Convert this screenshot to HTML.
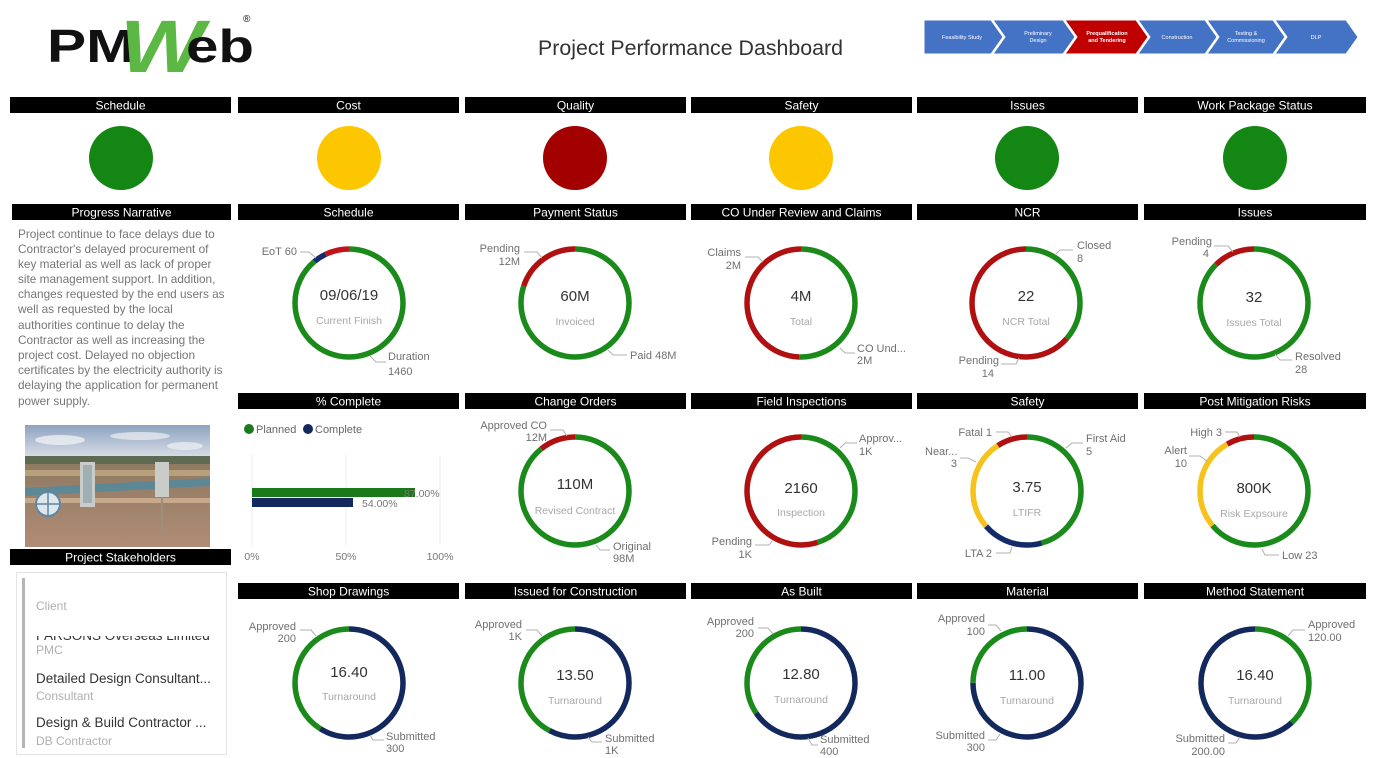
<!DOCTYPE html>
<html>
<head>
<meta charset="utf-8">
<style>
  html,body{margin:0;padding:0;background:#fff;}
  svg{display:block;font-family:"Liberation Sans",sans-serif;}
  .hb{fill:#000;}
  .ht{fill:#fff;font-size:12px;text-anchor:middle;}
  .lbl{fill:#707070;font-size:11px;}
  .ld{fill:none;stroke:#b0b0b0;stroke-width:1;}
  .val{fill:#333;font-size:15px;text-anchor:middle;}
  .sub{fill:#a8a8a8;font-size:10.5px;text-anchor:middle;}
  .nar{fill:#767676;font-size:11.8px;}
  .chv{fill:#fff;font-size:5.5px;text-anchor:middle;}
</style>
</head>
<body>
<svg width="1374" height="758" viewBox="0 0 1374 758" xmlns="http://www.w3.org/2000/svg">
  <rect width="1374" height="758" fill="#fff"/>

  <!-- Logo -->
  <text x="47" y="62" font-size="46" font-weight="bold" fill="#111" textLength="88" lengthAdjust="spacingAndGlyphs">PM</text>
  <text x="120" y="72" font-size="74" font-weight="bold" font-style="italic" fill="#5bb844" textLength="84" lengthAdjust="spacingAndGlyphs">W</text>
  <text x="186" y="62" font-size="46" font-weight="bold" fill="#111" textLength="68" lengthAdjust="spacingAndGlyphs">eb</text>
  <text x="243" y="22" font-size="10" fill="#111">®</text>

  <!-- Title -->
  <text x="538" y="55" font-size="21" fill="#333" textLength="305" lengthAdjust="spacingAndGlyphs">Project Performance Dashboard</text>

  <!-- Chevrons -->
  <g stroke="#fff" stroke-width="1">
    <polygon points="924,20 991,20 1003,37 991,54 924,54" fill="#4472c4"/>
    <polygon points="993,20 1063,20 1075,37 1063,54 993,54 1005,37" fill="#4472c4"/>
    <polygon points="1065,20 1136,20 1148,37 1136,54 1065,54 1077,37" fill="#c00000"/>
    <polygon points="1138,20 1205,20 1217,37 1205,54 1138,54 1150,37" fill="#4472c4"/>
    <polygon points="1207,20 1273,20 1285,37 1273,54 1207,54 1219,37" fill="#4472c4"/>
    <polygon points="1275,20 1346,20 1358,37 1346,54 1275,54 1287,37" fill="#4472c4"/>
  </g>
  <text class="chv" x="962" y="39">Feasibility Study</text>
  <text class="chv" x="1038" y="35">Preliminary</text>
  <text class="chv" x="1038" y="42">Design</text>
  <text class="chv" x="1107" y="35" font-weight="bold">Prequalification</text>
  <text class="chv" x="1107" y="42" font-weight="bold">and Tendering</text>
  <text class="chv" x="1177" y="39">Construction</text>
  <text class="chv" x="1246" y="35">Testing &amp;</text>
  <text class="chv" x="1246" y="42">Commissioning</text>
  <text class="chv" x="1316" y="39">DLP</text>

  <!-- Row 1 headers -->
  <rect class="hb" x="10" y="97" width="221" height="16"/><text class="ht" x="120.5" y="109.5">Schedule</text>
  <rect class="hb" x="238" y="97" width="221" height="16"/><text class="ht" x="348.5" y="109.5">Cost</text>
  <rect class="hb" x="465" y="97" width="221" height="16"/><text class="ht" x="575.5" y="109.5">Quality</text>
  <rect class="hb" x="691" y="97" width="221" height="16"/><text class="ht" x="801.5" y="109.5">Safety</text>
  <rect class="hb" x="917" y="97" width="221" height="16"/><text class="ht" x="1027.5" y="109.5">Issues</text>
  <rect class="hb" x="1144" y="97" width="222" height="16"/><text class="ht" x="1255" y="109.5">Work Package Status</text>

  <!-- Status circles -->
  <circle cx="121" cy="158" r="32" fill="#138613"/>
  <circle cx="349" cy="158" r="32" fill="#fdc700"/>
  <circle cx="575" cy="158" r="32" fill="#a30000"/>
  <circle cx="801" cy="158" r="32" fill="#fdc700"/>
  <circle cx="1027" cy="158" r="32" fill="#138613"/>
  <circle cx="1255" cy="158" r="32" fill="#138613"/>

  <!-- Row 2 headers -->
  <rect class="hb" x="12" y="204" width="219" height="16"/><text class="ht" x="121.5" y="216.5">Progress Narrative</text>
  <rect class="hb" x="238" y="204" width="221" height="16"/><text class="ht" x="348.5" y="216.5">Schedule</text>
  <rect class="hb" x="465" y="204" width="221" height="16"/><text class="ht" x="575.5" y="216.5">Payment Status</text>
  <rect class="hb" x="691" y="204" width="221" height="16"/><text class="ht" x="801.5" y="216.5">CO Under Review and Claims</text>
  <rect class="hb" x="917" y="204" width="221" height="16"/><text class="ht" x="1027.5" y="216.5">NCR</text>
  <rect class="hb" x="1144" y="204" width="222" height="16"/><text class="ht" x="1255" y="216.5">Issues</text>

  <!-- Narrative -->
  <text class="nar" x="18" y="238">Project continue to face delays due to</text>
  <text class="nar" x="18" y="253">Contractor's delayed procurement of</text>
  <text class="nar" x="18" y="268">key material as well as lack of proper</text>
  <text class="nar" x="18" y="283">site management support. In addition,</text>
  <text class="nar" x="18" y="298">changes requested by the end users as</text>
  <text class="nar" x="18" y="313">well as requested by the local</text>
  <text class="nar" x="18" y="329">authorities continue to delay the</text>
  <text class="nar" x="18" y="344">Contractor as well as increasing the</text>
  <text class="nar" x="18" y="359">project cost. Delayed no objection</text>
  <text class="nar" x="18" y="374">certificates by the electricity authority is</text>
  <text class="nar" x="18" y="389">delaying the application for permanent</text>
  <text class="nar" x="18" y="405">power supply.</text>

  <!-- ===== Row 2 donuts (cy=303) ===== -->
  <!-- Schedule -->
  <g fill="none" stroke-width="5.5">
    <circle cx="349" cy="303" r="54" stroke="#1a8a1a" stroke-dasharray="301.6 339.3" transform="rotate(-90 349 303)"/>
    <circle cx="349" cy="303" r="54" stroke="#142a6a" stroke-dasharray="13.2 339.3" stroke-dashoffset="-301.6" transform="rotate(-90 349 303)"/>
    <circle cx="349" cy="303" r="54" stroke="#c0141a" stroke-dasharray="24.5 339.3" stroke-dashoffset="-314.8" transform="rotate(-90 349 303)"/>
  </g>
  <text class="val" x="349" y="300">09/06/19</text>
  <text class="sub" x="349" y="324">Current Finish</text>
  <text class="lbl" x="297" y="255" text-anchor="end">EoT 60</text>
  <polyline class="ld" points="300,252 309,252 316,258"/>
  <text class="lbl" x="388" y="360">Duration</text>
  <text class="lbl" x="388" y="375">1460</text>
  <polyline class="ld" points="386,362 376,362 370,356"/>

  <!-- Payment -->
  <g fill="none" stroke-width="5.5">
    <circle cx="575" cy="303" r="54" stroke="#1a8a1a" stroke-dasharray="271.4 339.3" transform="rotate(-90 575 303)"/>
    <circle cx="575" cy="303" r="54" stroke="#b01010" stroke-dasharray="67.9 339.3" stroke-dashoffset="-271.4" transform="rotate(-90 575 303)"/>
  </g>
  <text class="val" x="575" y="301">60M</text>
  <text class="sub" x="575" y="325">Invoiced</text>
  <text class="lbl" x="520" y="252" text-anchor="end">Pending</text>
  <text class="lbl" x="520" y="265" text-anchor="end">12M</text>
  <polyline class="ld" points="524,252 537,252 542,258"/>
  <text class="lbl" x="630" y="359">Paid 48M</text>
  <polyline class="ld" points="627,355 613,355 608,350"/>

  <!-- CO Under Review -->
  <g fill="none" stroke-width="5.5">
    <circle cx="801" cy="303" r="54" stroke="#1a8a1a" stroke-dasharray="171.5 339.3" transform="rotate(-90 801 303)"/>
    <circle cx="801" cy="303" r="54" stroke="#b01010" stroke-dasharray="167.8 339.3" stroke-dashoffset="-171.5" transform="rotate(-90 801 303)"/>
  </g>
  <text class="val" x="801" y="301">4M</text>
  <text class="sub" x="801" y="325">Total</text>
  <text class="lbl" x="741" y="256" text-anchor="end">Claims</text>
  <text class="lbl" x="741" y="269" text-anchor="end">2M</text>
  <polyline class="ld" points="745,257 758,257 763,262"/>
  <text class="lbl" x="857" y="352">CO Und...</text>
  <text class="lbl" x="857" y="364">2M</text>
  <polyline class="ld" points="855,353 845,353 840,348"/>

  <!-- NCR -->
  <g fill="none" stroke-width="5.5">
    <circle cx="1026" cy="303" r="54" stroke="#1a8a1a" stroke-dasharray="123.5 339.3" transform="rotate(-90 1026 303)"/>
    <circle cx="1026" cy="303" r="54" stroke="#b01010" stroke-dasharray="215.8 339.3" stroke-dashoffset="-123.5" transform="rotate(-90 1026 303)"/>
  </g>
  <text class="val" x="1026" y="301">22</text>
  <text class="sub" x="1026" y="325">NCR Total</text>
  <text class="lbl" x="1077" y="249">Closed</text>
  <text class="lbl" x="1077" y="262">8</text>
  <polyline class="ld" points="1073,250 1060,250 1055,255"/>
  <text class="lbl" x="999" y="364" text-anchor="end">Pending</text>
  <text class="lbl" x="994" y="377" text-anchor="end">14</text>
  <polyline class="ld" points="1001,364 1016,364 1019,358"/>

  <!-- Issues -->
  <g fill="none" stroke-width="5.5">
    <circle cx="1254" cy="303" r="54" stroke="#1a8a1a" stroke-dasharray="296.9 339.3" transform="rotate(-90 1254 303)"/>
    <circle cx="1254" cy="303" r="54" stroke="#b01010" stroke-dasharray="42.4 339.3" stroke-dashoffset="-296.9" transform="rotate(-90 1254 303)"/>
  </g>
  <text class="val" x="1254" y="302">32</text>
  <text class="sub" x="1254" y="326">Issues Total</text>
  <text class="lbl" x="1212" y="245" text-anchor="end">Pending</text>
  <text class="lbl" x="1209" y="257" text-anchor="end">4</text>
  <polyline class="ld" points="1214,246 1228,246 1233,252"/>
  <text class="lbl" x="1295" y="360">Resolved</text>
  <text class="lbl" x="1295" y="373">28</text>
  <polyline class="ld" points="1292,360 1280,360 1275,354"/>

  <!-- Row 3 headers -->
  <rect class="hb" x="238" y="393" width="221" height="16"/><text class="ht" x="348.5" y="405.5">% Complete</text>
  <rect class="hb" x="465" y="393" width="221" height="16"/><text class="ht" x="575.5" y="405.5">Change Orders</text>
  <rect class="hb" x="691" y="393" width="221" height="16"/><text class="ht" x="801.5" y="405.5">Field Inspections</text>
  <rect class="hb" x="917" y="393" width="221" height="16"/><text class="ht" x="1027.5" y="405.5">Safety</text>
  <rect class="hb" x="1144" y="393" width="222" height="16"/><text class="ht" x="1255" y="405.5">Post Mitigation Risks</text>

  <!-- % Complete chart -->
  <circle cx="249" cy="429" r="5" fill="#1a7a1a"/>
  <text x="256" y="433" font-size="11" fill="#666">Planned</text>
  <circle cx="308" cy="429" r="5" fill="#13285c"/>
  <text x="315" y="433" font-size="11" fill="#666">Complete</text>
  <line x1="252" y1="455" x2="252" y2="545" stroke="#ececec"/>
  <line x1="346" y1="455" x2="346" y2="545" stroke="#ececec"/>
  <line x1="440" y1="455" x2="440" y2="545" stroke="#ececec"/>
  <rect x="252" y="488" width="163" height="9" fill="#1a7a1a"/>
  <rect x="252" y="498" width="101" height="9" fill="#13285c"/>
  <text x="404" y="497" font-size="10.5" fill="#777">87.00%</text>
  <text x="362" y="507" font-size="10.5" fill="#777">54.00%</text>
  <text x="252" y="560" font-size="10.5" fill="#777" text-anchor="middle">0%</text>
  <text x="346" y="560" font-size="10.5" fill="#777" text-anchor="middle">50%</text>
  <text x="440" y="560" font-size="10.5" fill="#777" text-anchor="middle">100%</text>

  <!-- Image thumbnail -->
  <defs>
    <linearGradient id="sky" x1="0" y1="0" x2="0" y2="1">
      <stop offset="0" stop-color="#8ea3c0"/>
      <stop offset="1" stop-color="#dfe3ea"/>
    </linearGradient>
    <linearGradient id="ground" x1="0" y1="0" x2="0" y2="1">
      <stop offset="0" stop-color="#8f7a62"/>
      <stop offset="1" stop-color="#b08c76"/>
    </linearGradient>
    <clipPath id="cutclip"><rect x="30" y="636" width="195" height="4"/></clipPath>
  </defs>
  <rect x="25" y="425" width="185" height="35" fill="url(#sky)"/>
  <ellipse cx="60" cy="440" rx="25" ry="5" fill="#eef0f4" opacity="0.8"/>
  <ellipse cx="140" cy="436" rx="30" ry="4" fill="#eef0f4" opacity="0.7"/>
  <ellipse cx="185" cy="446" rx="18" ry="4" fill="#eef0f4" opacity="0.7"/>
  <rect x="25" y="456" width="185" height="8" fill="#5e6a52"/>
  <rect x="25" y="464" width="185" height="83" fill="url(#ground)"/>
  <rect x="25" y="470" width="185" height="6" fill="#b8a07c"/>
  <polygon points="25,488 210,478 210,486 25,496" fill="#4f8aa0" opacity="0.8"/>
  <rect x="25" y="498" width="185" height="5" fill="#c6a88a"/>
  <rect x="80" y="462" width="15" height="45" fill="#c9ccc8"/>
  <rect x="83" y="465" width="9" height="38" fill="#9fb0b4"/>
  <rect x="155" y="462" width="14" height="35" fill="#c9ccc8"/>
  <line x1="162" y1="497" x2="162" y2="535" stroke="#9a8f80" stroke-width="2"/>
  <circle cx="48" cy="504" r="12" fill="#dfe7ec" stroke="#5d87a8" stroke-width="2"/>
  <line x1="36" y1="504" x2="60" y2="504" stroke="#5d87a8" stroke-width="1.5"/>
  <line x1="48" y1="492" x2="48" y2="516" stroke="#5d87a8" stroke-width="1.5"/>

  <!-- Stakeholders -->
  <rect class="hb" x="10" y="549" width="221" height="16"/><text class="ht" x="120.5" y="561.5">Project Stakeholders</text>
  <rect x="16.5" y="572.5" width="210" height="182" fill="#fff" stroke="#e4e4e4"/>
  <rect x="22" y="578" width="3" height="170" fill="#b5b5b5"/>
  <text x="36" y="610" font-size="12" fill="#b0b0b0">Client</text>
  <text x="36" y="640" font-size="13.5" fill="#333" clip-path="url(#cutclip)">PARSONS Overseas Limited</text>
  <text x="36" y="654" font-size="12" fill="#b0b0b0">PMC</text>
  <text x="36" y="683" font-size="13.5" fill="#333">Detailed Design Consultant...</text>
  <text x="36" y="700" font-size="12" fill="#b0b0b0">Consultant</text>
  <text x="36" y="727" font-size="13.5" fill="#333">Design &amp; Build Contractor ...</text>
  <text x="36" y="745" font-size="12" fill="#b0b0b0">DB Contractor</text>

  <!-- ===== Row 3 donuts (cy=491) ===== -->
  <!-- Change Orders -->
  <g fill="none" stroke-width="5.5">
    <circle cx="575" cy="491" r="54" stroke="#1a8a1a" stroke-dasharray="302.5 339.3" transform="rotate(-90 575 491)"/>
    <circle cx="575" cy="491" r="54" stroke="#b01010" stroke-dasharray="36.8 339.3" stroke-dashoffset="-302.5" transform="rotate(-90 575 491)"/>
  </g>
  <text class="val" x="575" y="489">110M</text>
  <text class="sub" x="575" y="514">Revised Contract</text>
  <text class="lbl" x="547" y="429" text-anchor="end">Approved CO</text>
  <text class="lbl" x="547" y="441" text-anchor="end">12M</text>
  <polyline class="ld" points="550,430 563,430 567,436"/>
  <text class="lbl" x="613" y="550">Original</text>
  <text class="lbl" x="613" y="562">98M</text>
  <polyline class="ld" points="610,550 600,550 596,545"/>

  <!-- Field Inspections -->
  <g fill="none" stroke-width="5.5">
    <circle cx="801" cy="491" r="54" stroke="#1a8a1a" stroke-dasharray="152.7 339.3" transform="rotate(-90 801 491)"/>
    <circle cx="801" cy="491" r="54" stroke="#b01010" stroke-dasharray="186.6 339.3" stroke-dashoffset="-152.7" transform="rotate(-90 801 491)"/>
  </g>
  <text class="val" x="801" y="493">2160</text>
  <text class="sub" x="801" y="516">Inspection</text>
  <text class="lbl" x="859" y="442">Approv...</text>
  <text class="lbl" x="859" y="455">1K</text>
  <polyline class="ld" points="857,443 845,443 840,448"/>
  <text class="lbl" x="752" y="545" text-anchor="end">Pending</text>
  <text class="lbl" x="752" y="558" text-anchor="end">1K</text>
  <polyline class="ld" points="755,545 769,545 773,540"/>

  <!-- Safety -->
  <g fill="none" stroke-width="5.5">
    <circle cx="1027" cy="491" r="54" stroke="#1a8a1a" stroke-dasharray="154.6 339.3" transform="rotate(-90 1027 491)"/>
    <circle cx="1027" cy="491" r="54" stroke="#142a6a" stroke-dasharray="61.3 339.3" stroke-dashoffset="-154.6" transform="rotate(-90 1027 491)"/>
    <circle cx="1027" cy="491" r="54" stroke="#f6c21c" stroke-dasharray="92.4 339.3" stroke-dashoffset="-215.8" transform="rotate(-90 1027 491)"/>
    <circle cx="1027" cy="491" r="54" stroke="#b01010" stroke-dasharray="31.1 339.3" stroke-dashoffset="-308.2" transform="rotate(-90 1027 491)"/>
  </g>
  <text class="val" x="1027" y="492">3.75</text>
  <text class="sub" x="1027" y="516">LTIFR</text>
  <text class="lbl" x="992" y="436" text-anchor="end">Fatal 1</text>
  <polyline class="ld" points="996,432 1008,432 1012,437"/>
  <text class="lbl" x="925" y="455">Near...</text>
  <text class="lbl" x="957" y="467" text-anchor="end">3</text>
  <polyline class="ld" points="960,458 968,458 976,462"/>
  <text class="lbl" x="1086" y="442">First Aid</text>
  <text class="lbl" x="1086" y="455">5</text>
  <polyline class="ld" points="1083,443 1072,443 1066,448"/>
  <text class="lbl" x="992" y="557" text-anchor="end">LTA 2</text>
  <polyline class="ld" points="996,553 1010,553 1012,547"/>

  <!-- Post Mitigation Risks -->
  <g fill="none" stroke-width="5.5">
    <circle cx="1254" cy="491" r="54" stroke="#1a8a1a" stroke-dasharray="216.8 339.3" transform="rotate(-90 1254 491)"/>
    <circle cx="1254" cy="491" r="54" stroke="#f6c21c" stroke-dasharray="94.2 339.3" stroke-dashoffset="-216.8" transform="rotate(-90 1254 491)"/>
    <circle cx="1254" cy="491" r="54" stroke="#b01010" stroke-dasharray="28.3 339.3" stroke-dashoffset="-311.0" transform="rotate(-90 1254 491)"/>
  </g>
  <text class="val" x="1254" y="493">800K</text>
  <text class="sub" x="1254" y="517">Risk Expsoure</text>
  <text class="lbl" x="1222" y="436" text-anchor="end">High 3</text>
  <polyline class="ld" points="1225,432 1237,432 1240,437"/>
  <text class="lbl" x="1187" y="454" text-anchor="end">Alert</text>
  <text class="lbl" x="1187" y="467" text-anchor="end">10</text>
  <polyline class="ld" points="1189,456 1200,456 1208,462"/>
  <text class="lbl" x="1282" y="559">Low 23</text>
  <polyline class="ld" points="1279,555 1265,555 1262,549"/>

  <!-- Row 4 headers -->
  <rect class="hb" x="238" y="583" width="221" height="16"/><text class="ht" x="348.5" y="595.5">Shop Drawings</text>
  <rect class="hb" x="465" y="583" width="221" height="16"/><text class="ht" x="575.5" y="595.5">Issued for Construction</text>
  <rect class="hb" x="691" y="583" width="221" height="16"/><text class="ht" x="801.5" y="595.5">As Built</text>
  <rect class="hb" x="917" y="583" width="221" height="16"/><text class="ht" x="1027.5" y="595.5">Material</text>
  <rect class="hb" x="1144" y="583" width="222" height="16"/><text class="ht" x="1255" y="595.5">Method Statement</text>

  <!-- ===== Row 4 donuts (cy=683) ===== -->
  <!-- Shop Drawings -->
  <g fill="none" stroke-width="5.5">
    <circle cx="349" cy="683" r="54" stroke="#13285c" stroke-dasharray="199.8 339.3" transform="rotate(-90 349 683)"/>
    <circle cx="349" cy="683" r="54" stroke="#1a8a1a" stroke-dasharray="139.5 339.3" stroke-dashoffset="-199.8" transform="rotate(-90 349 683)"/>
  </g>
  <text class="val" x="349" y="677">16.40</text>
  <text class="sub" x="349" y="700">Turnaround</text>
  <text class="lbl" x="296" y="630" text-anchor="end">Approved</text>
  <text class="lbl" x="296" y="642" text-anchor="end">200</text>
  <polyline class="ld" points="300,630 311,630 316,636"/>
  <text class="lbl" x="386" y="740">Submitted</text>
  <text class="lbl" x="386" y="752">300</text>
  <polyline class="ld" points="384,740 373,740 370,735"/>

  <!-- IFC -->
  <g fill="none" stroke-width="5.5">
    <circle cx="575" cy="683" r="54" stroke="#13285c" stroke-dasharray="196.0 339.3" transform="rotate(-90 575 683)"/>
    <circle cx="575" cy="683" r="54" stroke="#1a8a1a" stroke-dasharray="143.3 339.3" stroke-dashoffset="-196.0" transform="rotate(-90 575 683)"/>
  </g>
  <text class="val" x="575" y="680">13.50</text>
  <text class="sub" x="575" y="704">Turnaround</text>
  <text class="lbl" x="522" y="628" text-anchor="end">Approved</text>
  <text class="lbl" x="522" y="640" text-anchor="end">1K</text>
  <polyline class="ld" points="526,630 537,630 542,636"/>
  <text class="lbl" x="605" y="742">Submitted</text>
  <text class="lbl" x="605" y="754">1K</text>
  <polyline class="ld" points="602,742 592,742 588,737"/>

  <!-- As Built -->
  <g fill="none" stroke-width="5.5">
    <circle cx="801" cy="683" r="54" stroke="#13285c" stroke-dasharray="222.4 339.3" transform="rotate(-90 801 683)"/>
    <circle cx="801" cy="683" r="54" stroke="#1a8a1a" stroke-dasharray="116.9 339.3" stroke-dashoffset="-222.4" transform="rotate(-90 801 683)"/>
  </g>
  <text class="val" x="801" y="679">12.80</text>
  <text class="sub" x="801" y="703">Turnaround</text>
  <text class="lbl" x="754" y="625" text-anchor="end">Approved</text>
  <text class="lbl" x="754" y="637" text-anchor="end">200</text>
  <polyline class="ld" points="758,628 768,628 773,634"/>
  <text class="lbl" x="820" y="743">Submitted</text>
  <text class="lbl" x="820" y="755">400</text>
  <polyline class="ld" points="818,745 812,745 808,738"/>

  <!-- Material -->
  <g fill="none" stroke-width="5.5">
    <circle cx="1027" cy="683" r="54" stroke="#13285c" stroke-dasharray="254.5 339.3" transform="rotate(-90 1027 683)"/>
    <circle cx="1027" cy="683" r="54" stroke="#1a8a1a" stroke-dasharray="84.8 339.3" stroke-dashoffset="-254.5" transform="rotate(-90 1027 683)"/>
  </g>
  <text class="val" x="1027" y="680">11.00</text>
  <text class="sub" x="1027" y="704">Turnaround</text>
  <text class="lbl" x="985" y="622" text-anchor="end">Approved</text>
  <text class="lbl" x="985" y="635" text-anchor="end">100</text>
  <polyline class="ld" points="988,625 996,625 1001,631"/>
  <text class="lbl" x="985" y="739" text-anchor="end">Submitted</text>
  <text class="lbl" x="985" y="751" text-anchor="end">300</text>
  <polyline class="ld" points="988,740 996,740 1000,734"/>

  <!-- Method Statement -->
  <g fill="none" stroke-width="5.5">
    <circle cx="1255" cy="683" r="54" stroke="#1a8a1a" stroke-dasharray="129.1 339.3" transform="rotate(-90 1255 683)"/>
    <circle cx="1255" cy="683" r="54" stroke="#13285c" stroke-dasharray="210.2 339.3" stroke-dashoffset="-129.1" transform="rotate(-90 1255 683)"/>
  </g>
  <text class="val" x="1255" y="680">16.40</text>
  <text class="sub" x="1255" y="704">Turnaround</text>
  <text class="lbl" x="1308" y="628">Approved</text>
  <text class="lbl" x="1308" y="641">120.00</text>
  <polyline class="ld" points="1305,630 1293,630 1288,636"/>
  <text class="lbl" x="1225" y="742" text-anchor="end">Submitted</text>
  <text class="lbl" x="1225" y="755" text-anchor="end">200.00</text>
  <polyline class="ld" points="1228,743 1236,743 1240,737"/>
</svg>
</body>
</html>
